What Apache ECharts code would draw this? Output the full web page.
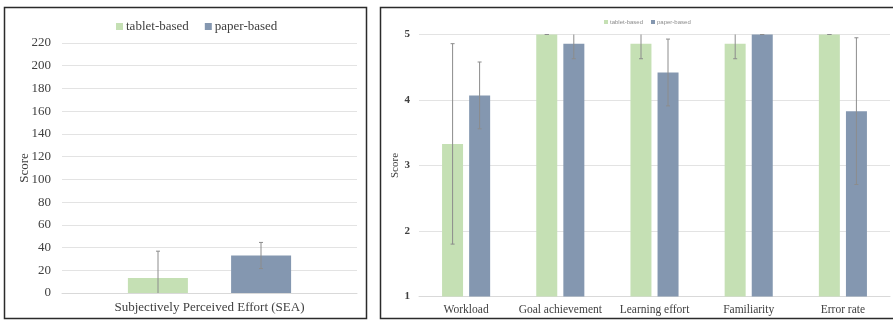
<!DOCTYPE html>
<html>
<head>
<meta charset="utf-8">
<script src="https://cdn.jsdelivr.net/npm/echarts@6/dist/echarts.min.js"></script>
<style>
  html, body { margin: 0; padding: 0; background: #fff; }
  #chart { width: 893px; height: 320px; }
</style>
</head>
<body>
<div id="chart"></div>
<script>
// left panel: SEA
const seaCategories = ['Subjectively Perceived Effort (SEA)']
const seaTablet = [13.3]
const seaTabletSd = [23.5]
const seaPaper = [33]
const seaPaperSd = [11.5]
const seaTicks = { min: 0, max: 220, interval: 20 }

// right panel: questionnaire scores
const scoreCategories = ['Workload', 'Goal achievement', 'Learning effort', 'Familiarity', 'Error rate']
const scoreTablet = [3.33, 5, 4.86, 4.86, 5]
const scoreTabletSd = [1.53, 0, 0.23, 0.23, 0]
const scorePaper = [4.07, 4.86, 4.42, 5, 3.83]
const scorePaperSd = [0.51, 0.23, 0.51, 0, 1.12]
const scoreTicks = { min: 1, max: 5, interval: 1 }

const seriesNames = ['tablet-based', 'paper-based']
const GREEN = '#c5e0b4'
const BLUE = '#8497b0'
const SERIF = "'Liberation Serif', 'Times New Roman', serif"

// build [catIndex, low, high] rows for the whiskers
function errRows (means, sds) {
  return means.map((m, i) => [i, m - sds[i], m + sds[i]])
}

function errorBars (rows, xIdx, yIdx, offset) {
  return {
    type: 'custom',
    xAxisIndex: xIdx,
    yAxisIndex: yIdx,
    data: rows,
    z: 10,
    silent: true,
    renderItem: function (params, api) {
      const cs = params.coordSys
      const lo = api.coord([api.value(0), api.value(1)])
      const hi = api.coord([api.value(0), api.value(2)])
      const cx = lo[0] + offset
      const top = cs.y
      const bottom = cs.y + cs.height
      const y1 = Math.min(Math.max(hi[1], top), bottom)
      const y2 = Math.min(Math.max(lo[1], top), bottom)
      const st = { stroke: '#8c8c8c', lineWidth: 1 }
      const kids = [{ type: 'line', shape: { x1: cx, y1: y1, x2: cx, y2: y2 }, style: st }]
      const cap = 2
      if (hi[1] >= top) kids.push({ type: 'line', shape: { x1: cx - cap, y1: y1, x2: cx + cap, y2: y1 }, style: st })
      if (lo[1] <= bottom) kids.push({ type: 'line', shape: { x1: cx - cap, y1: y2, x2: cx + cap, y2: y2 }, style: st })
      return { type: 'group', children: kids }
    }
  }
}

const gridLine = { show: true, lineStyle: { color: '#e3e3e3', width: 1 } }

let option = {
  animation: false,
  backgroundColor: '#fff',
  textStyle: { fontFamily: SERIF },
  graphic: [
    { type: 'rect', shape: { x: 4.5, y: 7.5, width: 362, height: 311 }, style: { fill: 'none', stroke: '#2b2b2b', lineWidth: 1.5 } },
    { type: 'rect', shape: { x: 380.5, y: 7.5, width: 530, height: 311 }, style: { fill: 'none', stroke: '#2b2b2b', lineWidth: 1.5 } }
  ],
  legend: [
    {
      data: seriesNames,
      left: 111,
      top: 15,
      itemWidth: 7,
      itemHeight: 7,
      itemGap: 16,
      icon: 'rect',
      textStyle: { fontFamily: SERIF, fontSize: 13, color: '#404040', padding: [0, 0, 0, -2] }
    },
    {
      data: seriesNames,
      left: 599,
      top: 14,
      itemWidth: 4,
      itemHeight: 4,
      itemGap: 8,
      icon: 'rect',
      textStyle: { fontFamily: 'Liberation Sans, sans-serif', fontSize: 6, color: '#8c8c8c', padding: [0, 0, 0, -3] }
    }
  ],
  grid: [
    { left: 62, right: 536, top: 43, bottom: 27 },
    { left: 419, right: 3, top: 34.5, bottom: 23.5 }
  ],
  xAxis: [
    {
      type: 'category',
      gridIndex: 0,
      data: seaCategories,
      axisTick: { show: false },
      axisLine: { lineStyle: { color: '#d9d9d9' } },
      axisLabel: { fontFamily: SERIF, fontSize: 13, color: '#404040', margin: 8 }
    },
    {
      type: 'category',
      gridIndex: 1,
      data: scoreCategories,
      axisTick: { show: false },
      axisLine: { lineStyle: { color: '#d9d9d9' } },
      axisLabel: { interval: 0, fontFamily: SERIF, fontSize: 11.5, color: '#404040', margin: 7 }
    }
  ],
  yAxis: [
    {
      type: 'value',
      gridIndex: 0,
      min: seaTicks.min,
      max: seaTicks.max,
      interval: seaTicks.interval,
      name: 'Score',
      nameLocation: 'middle',
      nameGap: 31,
      nameMoveOverlap: false,
      nameTextStyle: { fontFamily: SERIF, fontSize: 13, color: '#404040' },
      axisLine: { show: false },
      axisTick: { show: false },
      splitLine: gridLine,
      axisLabel: { fontFamily: SERIF, fontSize: 13, color: '#404040', margin: 11 }
    },
    {
      type: 'value',
      gridIndex: 1,
      min: scoreTicks.min,
      max: scoreTicks.max,
      interval: scoreTicks.interval,
      name: 'Score',
      nameLocation: 'middle',
      nameGap: 18,
      nameMoveOverlap: false,
      nameTextStyle: { fontFamily: SERIF, fontSize: 11, color: '#404040' },
      axisLine: { show: false },
      axisTick: { show: false },
      splitLine: gridLine,
      axisLabel: { fontFamily: SERIF, fontSize: 11, fontWeight: 'bold', color: '#404040', margin: 9 }
    }
  ],
  series: [
    { name: seriesNames[0], type: 'bar', xAxisIndex: 0, yAxisIndex: 0, data: seaTablet, barWidth: 60, barGap: '72%', itemStyle: { color: GREEN } },
    { name: seriesNames[1], type: 'bar', xAxisIndex: 0, yAxisIndex: 0, data: seaPaper, barWidth: 60, barGap: '72%', itemStyle: { color: BLUE } },
    errorBars(errRows(seaTablet, seaTabletSd), 0, 0, -51.5),
    errorBars(errRows(seaPaper, seaPaperSd), 0, 0, 51.5),
    { name: seriesNames[0], type: 'bar', xAxisIndex: 1, yAxisIndex: 1, data: scoreTablet, barWidth: 21, barGap: '29%', itemStyle: { color: GREEN } },
    { name: seriesNames[1], type: 'bar', xAxisIndex: 1, yAxisIndex: 1, data: scorePaper, barWidth: 21, barGap: '29%', itemStyle: { color: BLUE } },
    errorBars(errRows(scoreTablet, scoreTabletSd), 1, 1, -13.5),
    errorBars(errRows(scorePaper, scorePaperSd), 1, 1, 13.5)
  ]
}

let chart = echarts.init(document.getElementById('chart'))
chart.setOption(option, true)
</script>
</body>
</html>
